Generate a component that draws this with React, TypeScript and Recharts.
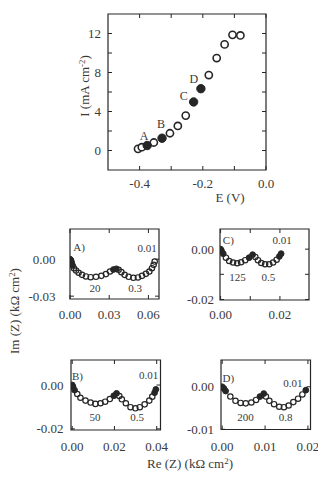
import React from 'react';
import { ScatterChart, Scatter, XAxis, YAxis, ReferenceArea } from 'recharts';

const SERIF = "'Liberation Serif', 'Times New Roman', serif";
const INK = '#262626';
const TEXT = '#3a3a3a';

// polarisation curve: E (V) vs I (mA cm-2)
const potential = [-0.405, -0.393, -0.376, -0.355, -0.329, -0.304, -0.279, -0.254, -0.229, -0.206, -0.181, -0.156, -0.131, -0.106, -0.081];
const current = [0.17, 0.34, 0.51, 0.82, 1.26, 1.77, 2.52, 3.58, 4.98, 6.34, 7.74, 9.48, 10.88, 11.86, 11.8];
const pointTags = ['', '', 'A', '', 'B', '', '', '', 'C', 'D', '', '', '', '', ''];

const eTicks = [-0.4, -0.3, -0.2, -0.1, 0];
const eLabeled = [-0.4, -0.2, 0];
const iTicks = [0, 2, 4, 6, 8, 10, 12];
const iLabeled = [0, 4, 8, 12];

// impedance spectra, Re/Im in kOhm cm2
const reA = [0, 0.0003, 0.0008, 0.0013, 0.002, 0.003, 0.0046, 0.0066, 0.0092, 0.0122, 0.0158, 0.0199, 0.024, 0.0275, 0.0306, 0.0332, 0.0354, 0.0372, 0.0393, 0.0418, 0.0449, 0.0485, 0.052, 0.0551, 0.0581, 0.0607, 0.0627, 0.064, 0.0648];
const imA = [0, -0.0004, -0.0011, -0.0029, -0.0051, -0.0073, -0.0092, -0.011, -0.0127, -0.014, -0.0146, -0.0143, -0.0135, -0.0121, -0.01, -0.0084, -0.0078, -0.0086, -0.0105, -0.0127, -0.0143, -0.0151, -0.0148, -0.0135, -0.0119, -0.01, -0.0073, -0.0046, -0.0019];
const solidA = [0, 1, 2, 3, 4, 15, 16];

const reB = [0, 0.0004, 0.0011, 0.0024, 0.0039, 0.0063, 0.0087, 0.011, 0.0134, 0.0156, 0.0178, 0.0197, 0.021, 0.0223, 0.0235, 0.0254, 0.0276, 0.0299, 0.032, 0.0343, 0.0365, 0.0379, 0.039, 0.0396];
const imB = [0, -0.0008, -0.0023, -0.0041, -0.0058, -0.0071, -0.008, -0.0086, -0.0083, -0.0076, -0.0064, -0.0049, -0.0038, -0.005, -0.0065, -0.0083, -0.0101, -0.0106, -0.0101, -0.0088, -0.0071, -0.0053, -0.0035, -0.002];
const solidB = [0, 1, 2, 11, 12, 22, 23];

const reC = [0, 0.0003, 0.0009, 0.0018, 0.0029, 0.0042, 0.0056, 0.0069, 0.0083, 0.0096, 0.0108, 0.0117, 0.0126, 0.0137, 0.015, 0.0164, 0.0177, 0.0189, 0.0198, 0.0204];
const imC = [0, -0.0006, -0.0018, -0.0034, -0.0047, -0.0053, -0.0056, -0.0052, -0.0044, -0.0034, -0.0022, -0.0031, -0.0044, -0.0055, -0.006, -0.006, -0.0053, -0.0042, -0.0029, -0.0018];
const solidC = [0, 1, 2, 9, 10, 18, 19];

const reD = [0, 0.0004, 0.0008, 0.0019, 0.0031, 0.0043, 0.0055, 0.0068, 0.0079, 0.0088, 0.0097, 0.0102, 0.011, 0.0121, 0.0133, 0.0144, 0.0155, 0.0166, 0.0177, 0.0187, 0.0195];
const imD = [0, -0.0004, -0.001, -0.0023, -0.0033, -0.0038, -0.0039, -0.0037, -0.0031, -0.0023, -0.0016, -0.0023, -0.0033, -0.0041, -0.0047, -0.0048, -0.0044, -0.0036, -0.0028, -0.0018, -0.0008];
const solidD = [0, 1, 2, 9, 10, 20];

// frequency annotations (Hz)
const panelNames = ['A)', 'B)', 'C)', 'D)'];
const endFreq = ['0.01', '0.01', '0.01', '0.01'];
const arcFreqs = [['20', '0.3'], ['50', '0.5'], ['125', '0.5'], ['200', '0.8']];

// label offsets for the marked polarisation points
const tagOffset: Record<string, [number, number]> = { A: [-3, -10], B: [-1, -14], C: [-10, -6], D: [-7, -10] };

const makeXTick = (h: number, labeled: number[], fmt: (v: number) => string, gap: number, fs: number) => (props: any) => {
  const { x, y, payload } = props;
  const v = payload.value;
  return (
    <g>
      <line x1={x} y1={y} x2={x} y2={y - 4} stroke={INK} strokeWidth={1} />
      <line x1={x} y1={y - h} x2={x} y2={y - h + 4} stroke={INK} strokeWidth={1} />
      {labeled.includes(v) && (
        <text x={x} y={y + gap} textAnchor="middle" dominantBaseline="central" fontFamily={SERIF} fontSize={fs} fill={TEXT}>
          {fmt(v)}
        </text>
      )}
    </g>
  );
};

const makeYTick = (w: number, labeled: number[], fmt: (v: number) => string, gap: number, fs: number) => (props: any) => {
  const { x, y, payload } = props;
  const v = payload.value;
  return (
    <g>
      <line x1={x} y1={y} x2={x + 4} y2={y} stroke={INK} strokeWidth={1} />
      <line x1={x + w} y1={y} x2={x + w - 4} y2={y} stroke={INK} strokeWidth={1} />
      {labeled.includes(v) && (
        <text x={x - gap} y={y} textAnchor="end" dominantBaseline="central" fontFamily={SERIF} fontSize={fs} fill={TEXT}>
          {fmt(v)}
        </text>
      )}
    </g>
  );
};

const Note = ({ x, y, size = 11, children, rotate = false }: any) => (
  <div
    style={{
      position: 'absolute',
      left: x,
      top: y,
      transform: `translate(-50%, -50%)${rotate ? ' rotate(-90deg)' : ''}`,
      fontFamily: SERIF,
      fontSize: size,
      color: TEXT,
      whiteSpace: 'nowrap',
      lineHeight: 1,
    }}
  >
    {children}
  </div>
);

const Sup = ({ children }: any) => (
  <span style={{ fontSize: '0.68em', position: 'relative', top: '-0.5em' }}>{children}</span>
);

function PolarisationChart() {
  const data = potential.map((e, i) => ({ e, i: current[i], tag: pointTags[i] }));
  const open = data.filter((d) => !d.tag);
  const marked = data.filter((d) => d.tag);
  const plotW = 158;
  const plotH = 156;
  return (
    <div style={{ position: 'absolute', left: 0, top: 0 }}>
      <ScatterChart width={318} height={200} margin={{ top: 14, right: 52, bottom: 0, left: 68 }}>
        <XAxis
          type="number"
          dataKey="e"
          domain={[-0.5, 0]}
          ticks={eTicks}
          interval={0}
          allowDataOverflow
          axisLine={false}
          tickLine={false}
          tickSize={0}
          tickMargin={0}
          height={30}
          tick={makeXTick(plotH, eLabeled, (v) => v.toFixed(1), 13, 13)}
        />
        <YAxis
          type="number"
          dataKey="i"
          domain={[-2, 14]}
          ticks={iTicks}
          interval={0}
          allowDataOverflow
          axisLine={false}
          tickLine={false}
          tickSize={0}
          tickMargin={0}
          width={40}
          tick={makeYTick(plotW, iLabeled, (v) => String(v), 7, 13)}
        />
        <ReferenceArea x1={-0.5} x2={0} y1={-2} y2={14} fill="none" stroke={INK} strokeWidth={1.2} ifOverflow="visible" />
        <Scatter
          data={open}
          isAnimationActive={false}
          shape={(p: any) => <circle cx={p.cx} cy={p.cy} r={3.6} fill="#fff" stroke={INK} strokeWidth={1.6} />}
        />
        <Scatter
          data={marked}
          isAnimationActive={false}
          shape={(p: any) => {
            const tag = p.payload?.tag ?? p.tag;
            const [dx, dy] = tagOffset[tag] || [0, -10];
            return (
              <g>
                <circle cx={p.cx} cy={p.cy} r={4.2} fill={INK} stroke={INK} strokeWidth={1} />
                <text x={p.cx + dx} y={p.cy + dy} textAnchor="middle" dominantBaseline="central" fontFamily={SERIF} fontSize={12} fill={TEXT}>
                  {tag}
                </text>
              </g>
            );
          }}
        />
      </ScatterChart>
    </div>
  );
}

type Frame = {
  left: number;
  top: number;
  w: number;
  h: number;
  xDomain: [number, number];
  yDomain: [number, number];
  xTicks: number[];
  xLabeled: number[];
  yTicks: number[];
  yLabeled: number[];
  xGap: number;
  yGap: number;
};

function ImpedancePanel({ re, im, solid, frame }: { re: number[]; im: number[]; solid: number[]; frame: Frame }) {
  const { left, top, w, h, xDomain, yDomain } = frame;
  const ml = 15;
  const yw = 40;
  const mr = 15;
  const mt = 12;
  const xh = 28;
  const data = re.map((r, i) => ({ re: r, im: im[i] }));
  const open = data.filter((_, i) => !solid.includes(i));
  const filled = data.filter((_, i) => solid.includes(i));
  const fmt = (v: number) => v.toFixed(2);
  return (
    <div style={{ position: 'absolute', left: left - ml - yw, top: top - mt }}>
      <ScatterChart width={w + ml + yw + mr} height={h + mt + xh} margin={{ top: mt, right: mr, bottom: 0, left: ml }}>
        <XAxis
          type="number"
          dataKey="re"
          domain={xDomain}
          ticks={frame.xTicks}
          interval={0}
          allowDataOverflow
          axisLine={false}
          tickLine={false}
          tickSize={0}
          tickMargin={0}
          height={xh}
          tick={makeXTick(h, frame.xLabeled, fmt, frame.xGap, 13)}
        />
        <YAxis
          type="number"
          dataKey="im"
          domain={yDomain}
          ticks={frame.yTicks}
          interval={0}
          allowDataOverflow
          axisLine={false}
          tickLine={false}
          tickSize={0}
          tickMargin={0}
          width={yw}
          tick={makeYTick(w, frame.yLabeled, fmt, frame.yGap, 13)}
        />
        <ReferenceArea x1={xDomain[0]} x2={xDomain[1]} y1={yDomain[0]} y2={yDomain[1]} fill="none" stroke={INK} strokeWidth={1.2} ifOverflow="visible" />
        <Scatter
          data={open}
          isAnimationActive={false}
          shape={(p: any) => <circle cx={p.cx} cy={p.cy} r={2.7} fill="none" stroke={INK} strokeWidth={1.2} />}
        />
        <Scatter
          data={filled}
          isAnimationActive={false}
          shape={(p: any) => <circle cx={p.cx} cy={p.cy} r={2.9} fill={INK} stroke={INK} strokeWidth={1} />}
        />
      </ScatterChart>
    </div>
  );
}

const frameA: Frame = {
  left: 70, top: 228.5, w: 89, h: 70,
  xDomain: [0, 0.0681], yDomain: [-0.0323, 0.0245],
  xTicks: [0, 0.03, 0.06], xLabeled: [0, 0.03, 0.06],
  yTicks: [0, -0.03], yLabeled: [0, -0.03],
  xGap: 15.5, yGap: 14.5,
};
const frameB: Frame = {
  left: 70.5, top: 360, w: 89.5, h: 70,
  xDomain: [-0.00057, 0.0418], yDomain: [-0.0205, 0.0114],
  xTicks: [0, 0.02, 0.04], xLabeled: [0, 0.02, 0.04],
  yTicks: [0, -0.02], yLabeled: [0, -0.02],
  xGap: 16, yGap: 7.5,
};
const frameC: Frame = {
  left: 220, top: 228.5, w: 89, h: 71,
  xDomain: [-0.0002, 0.0298], yDomain: [-0.0202, 0.008],
  xTicks: [0, 0.01, 0.02], xLabeled: [0, 0.02],
  yTicks: [0, -0.01, -0.02], yLabeled: [0, -0.02],
  xGap: 14, yGap: 6,
};
const frameD: Frame = {
  left: 220.5, top: 360, w: 89.5, h: 69.5,
  xDomain: [-0.00028, 0.0206], yDomain: [-0.01005, 0.0063],
  xTicks: [0, 0.01, 0.02], xLabeled: [0, 0.01, 0.02],
  yTicks: [0, -0.01], yLabeled: [0, -0.01],
  xGap: 16.5, yGap: 7,
};

// annotation anchors per panel: name, end frequency, two arc frequencies
const notePos = [
  { name: [79, 247.3], end: [147, 248.3], arcs: [[95, 288], [135, 288]] },
  { name: [77.5, 376], end: [148.7, 375], arcs: [[95, 416.7], [137, 416.7]] },
  { name: [228.3, 240], end: [282, 240], arcs: [[237.5, 276.7], [268.3, 276.7]] },
  { name: [228.3, 378.3], end: [292.8, 382.7], arcs: [[245.5, 417.3], [285.5, 417.3]] },
];

export default function App() {
  return (
    <div style={{ position: 'absolute', left: 0, top: 0, width: 318, height: 480, overflow: 'hidden', background: '#fff' }}>
      <PolarisationChart />
      <Note x={84} y={86} size={13} rotate>
        I (mA cm<Sup>-2</Sup>)
      </Note>
      <Note x={230} y={197} size={13}>E (V)</Note>

      <ImpedancePanel re={reA} im={imA} solid={solidA} frame={frameA} />
      <ImpedancePanel re={reB} im={imB} solid={solidB} frame={frameB} />
      <ImpedancePanel re={reC} im={imC} solid={solidC} frame={frameC} />
      <ImpedancePanel re={reD} im={imD} solid={solidD} frame={frameD} />

      {notePos.map((p, k) => (
        <React.Fragment key={k}>
          <Note x={p.name[0]} y={p.name[1]}>{panelNames[k]}</Note>
          <Note x={p.end[0]} y={p.end[1]}>{endFreq[k]}</Note>
          <Note x={p.arcs[0][0]} y={p.arcs[0][1]}>{arcFreqs[k][0]}</Note>
          <Note x={p.arcs[1][0]} y={p.arcs[1][1]}>{arcFreqs[k][1]}</Note>
        </React.Fragment>
      ))}

      <Note x={14} y={311} size={13} rotate>
        Im (Z) (kΩ cm<Sup>2</Sup>)
      </Note>
      <Note x={190} y={463} size={13}>
        Re (Z) (kΩ cm<Sup>2</Sup>)
      </Note>
    </div>
  );
}
